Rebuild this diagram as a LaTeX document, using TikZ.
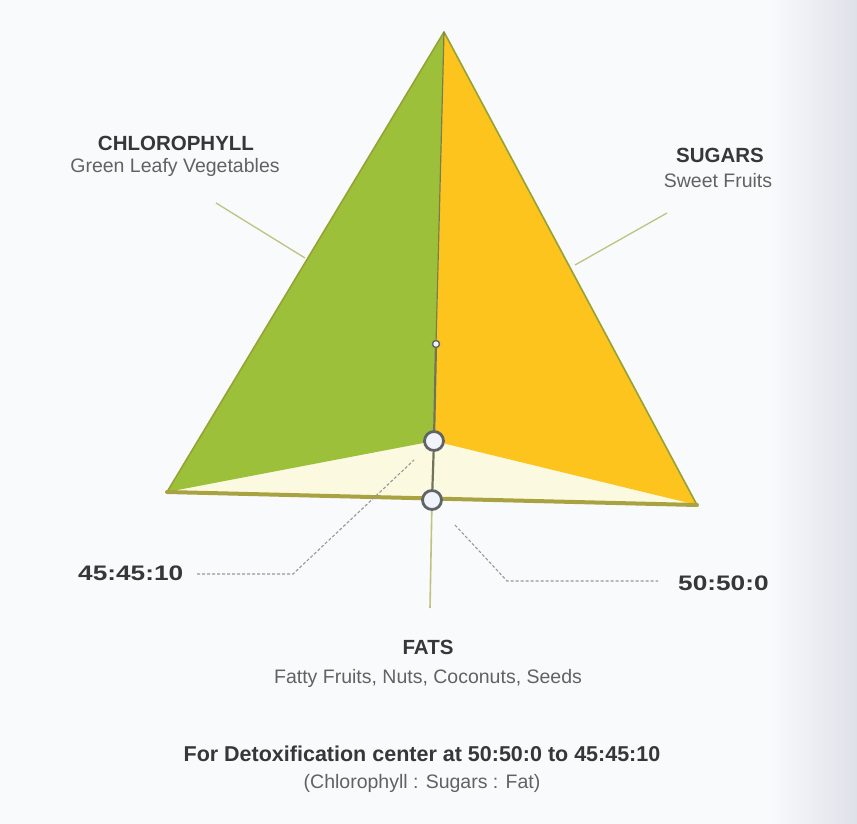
\documentclass[tikz,border=0pt]{standalone}
\usepackage{fontspec}
\setmainfont{Liberation Sans}
\usepackage{tikz}
\usetikzlibrary{calc}

\definecolor{paper}{RGB}{248,250,252}
\definecolor{gutter}{RGB}{222,225,232}
\definecolor{leafgreen}{RGB}{157,192,58}
\definecolor{sugaryellow}{RGB}{252,196,28}
\definecolor{fatcream}{RGB}{251,249,224}
\definecolor{edgeolive}{RGB}{150,162,52}
\definecolor{baseolive}{RGB}{168,162,64}
\definecolor{leaderolive}{RGB}{192,194,128}
\definecolor{spinegray}{RGB}{112,116,92}
\definecolor{ringgray}{RGB}{96,100,102}
\definecolor{ringfill}{RGB}{240,244,250}
\definecolor{dashgray}{RGB}{150,152,155}
\definecolor{headgray}{RGB}{55,55,58}
\definecolor{textgray}{RGB}{98,98,100}

\begin{document}
\begin{tikzpicture}[x=1pt,y=-1pt,
  head/.style={anchor=base,inner sep=0pt,text=headgray,font=\bfseries\fontsize{20.5}{22}\selectfont},
  lbl/.style={anchor=base,inner sep=0pt,text=textgray,font=\fontsize{19.5}{22}\selectfont},
  ratio/.style={anchor=base,inner sep=0pt,text=headgray,font=\bfseries\fontsize{21}{22}\selectfont},
  ring/.style={circle,draw=ringgray,line width=2.8pt,fill=ringfill,minimum size=19pt,inner sep=0pt},
  smallring/.style={circle,draw=ringgray,line width=1.4pt,fill=ringfill,minimum size=7pt,inner sep=0pt},
  leader/.style={draw=leaderolive,line width=1.3pt},
  guide/.style={draw=dashgray,line width=1.1pt,dash pattern=on 3pt off 2pt}]
\useasboundingbox (0,0) rectangle (857,824);
\fill[paper] (0,0) rectangle (857,824);
\shade[left color=paper,right color=gutter] (770,0) rectangle (857,824);

% pyramid
\coordinate (apex) at (444,32);
\coordinate (left) at (167,492);
\coordinate (right) at (697,505);
\coordinate (inner) at (434,441);
\coordinate (front) at (432,500);
\fill[fatcream] (left) -- (inner) -- (right) -- cycle;
\fill[leafgreen] (apex) -- (left) -- (inner) -- cycle;
\fill[sugaryellow] (apex) -- (inner) -- (right) -- cycle;
\draw[edgeolive,line width=1.6pt,line join=round] (left) -- (apex) -- (right);
\draw[baseolive,line width=4pt,line cap=round] (left) -- (right);

% labels
\node[head] (chlHead) at (176,150) {CHLOROPHYLL};
\node[lbl] (chlText) at (175,173) {Green Leafy Vegetables};
\node[head] (sugHead) at (720,163) {SUGARS};
\node[lbl] (sugText) at (718,188) {Sweet Fruits};
\node[head] (fatHead) at (428,654) {FATS};
\node[lbl] (fatText) at (428,683) {Fatty Fruits, Nuts, Coconuts, Seeds};
\node[ratio,anchor=base west] (mixA) at (78,580) {\scalebox{1.25}[1]{45:45:10}};
\node[ratio,anchor=base west] (mixB) at (678,590) {\scalebox{1.25}[1]{50:50:0}};
\node[head,font=\bfseries\fontsize{21.5}{24}\selectfont] (title) at (422,761) {For Detoxification center at 50:50:0 to 45:45:10};
\node[lbl] (subtitle) at (422,788) {(Chlorophyll : Sugars : Fat)};

% leaders
\coordinate (chlFrom) at (216,203);
\coordinate (chlTo) at (305,258);
\coordinate (sugFrom) at (667,213);
\coordinate (sugTo) at (575,265);
\coordinate (fatTo) at (430,608);
\draw[leader] (chlFrom) -- (chlTo);
\draw[leader] (sugFrom) -- (sugTo);

% centre markers
\node[smallring] (dot) at (436,344) {};
\node[ring] (mid) at (inner) {};
\node[ring] (low) at (front) {};
\draw[spinegray!80!edgeolive,line width=1.2pt] (apex) -- (dot);
\draw[spinegray,line width=2.2pt] (dot) -- (mid);
\draw[spinegray,line width=2.2pt] (mid) -- (low);
\draw[leader,line width=1.6pt] (low) -- (fatTo);

% ratio guides
\coordinate (startA) at (197,574);
\coordinate (bendA) at (293,574);
\coordinate (tipA) at (414,460);
\coordinate (tipB) at (455,525);
\coordinate (bendB) at (507,581);
\coordinate (endB) at (658,581);
\draw[guide] (startA) -- (bendA) -- (tipA);
\draw[guide] (tipB) -- (bendB) -- (endB);
\end{tikzpicture}
\end{document}
